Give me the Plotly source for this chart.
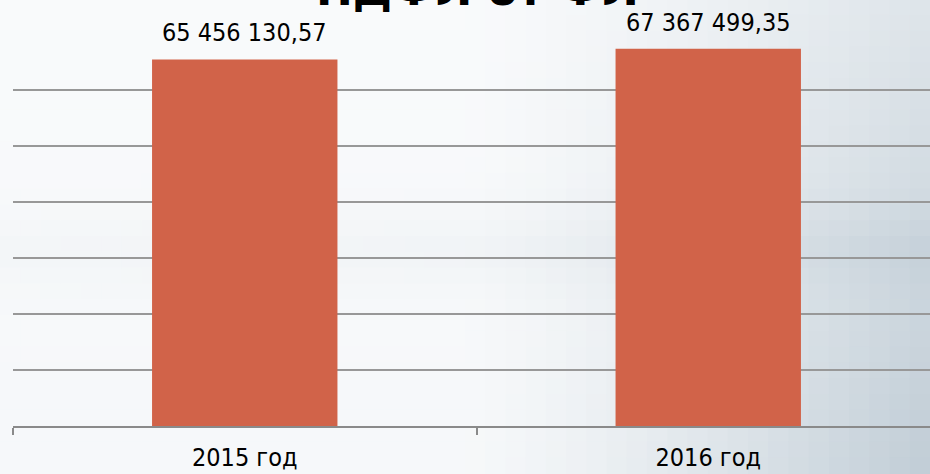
import plotly.graph_objects as go

# ---- data ----
categories = ["2015 год", "2016 год"]
values = [65456130.57, 67367499.35]
grid_vals = [10e6, 20e6, 30e6, 40e6, 50e6, 60e6]
title_text = "НДФЛ от ФЛ"

W, H = 930, 474
ML, MR, MT, MB = 13, 0, 0, 48
PW, PH = W - ML - MR, H - MT - MB

FONT = "DejaVu Sans Condensed, Liberation Sans, sans-serif"

def fmt(v):
    s = f"{v:,.2f}"
    return s.replace(",", " ").replace(".", ",")

fig = go.Figure()
fig.add_trace(go.Bar(
    x=categories, y=values, width=0.4,
    marker=dict(color="#d16349", line=dict(width=0)),
    hoverinfo="skip",
))

for c, v in zip(categories, values):
    fig.add_annotation(x=c, y=v, xref="x", yref="y", text=fmt(v),
                       showarrow=False, yanchor="bottom", yshift=10,
                       font=dict(family=FONT, size=25, color="#000000"))

# title, partially cut off at the top (as in the reference)
fig.add_annotation(x=(477 - ML) / PW, y=1, xref="paper", yref="paper",
                   text="<b>" + title_text + "</b>", showarrow=False,
                   yanchor="bottom", yshift=-17,
                   font=dict(family="DejaVu Sans, sans-serif", size=44, color="#000000"))

# background gradient (white -> light blue-gray at the right, soft gray band in the middle)
def lerp(a, b, t):
    return a + (b - a) * t

shapes = []
ncols, nrows = 46, 30
for i in range(ncols):
    for j in range(nrows):
        x0 = W * i / ncols
        x1 = W * (i + 1) / ncols
        y0 = H * j / nrows
        y1 = H * (j + 1) / nrows
        t = (x0 + x1) / 2 / W
        s = (y0 + y1) / 2 / H
        d = max(0.0, (t - 0.5) / 0.5) ** 1.3 * (0.5 + 0.5 * s) * 0.95
        band = 0.16 * max(0.0, 1 - abs(s - 0.53) / 0.16) ** 1.5 * (0.5 + 0.5 * t)
        d = min(1.0, d + band + 0.04 + 0.05 * s)
        base = (251, 252, 253)
        dark = (194, 206, 215)
        col = tuple(int(round(lerp(base[k], dark[k], d))) for k in range(3))
        shapes.append(dict(
            type="rect", xref="paper", yref="paper", layer="below",
            x0=(x0 - ML) / PW, x1=(x1 - ML + 1) / PW,
            y0=(H - MB - y1) / PH, y1=(H - MB - y0 + 1) / PH,
            fillcolor="rgb(%d,%d,%d)" % col, line=dict(width=0),
        ))

ymax = 60e6 * (H - MB - MT) / (426 - 90)
fig.update_layout(
    width=W, height=H,
    margin=dict(l=ML, r=MR, t=MT, b=MB),
    paper_bgcolor="#f6f7f8",
    plot_bgcolor="rgba(0,0,0,0)",
    showlegend=False,
    shapes=shapes,
    xaxis=dict(
        range=[-0.5, -0.5 + PW / 463.5],
        showline=True, linecolor="#8a8a8a", linewidth=1.5,
        ticks="outside", tickson="boundaries", ticklen=7, tickcolor="#8a8a8a", tickwidth=1.5,
        ticklabelstandoff=8,
        showgrid=False,
        tickfont=dict(family=FONT, size=25, color="#000000"),
        fixedrange=True,
    ),
    yaxis=dict(
        range=[0, ymax],
        tickvals=grid_vals, showticklabels=False,
        showgrid=True, gridcolor="#989898", gridwidth=1.5,
        zeroline=False, showline=False, fixedrange=True,
    ),
)

fig.write_html("out.html", config={"displayModeBar": False},
               post_script="document.body.style.margin='0';document.body.style.overflow='hidden';")
